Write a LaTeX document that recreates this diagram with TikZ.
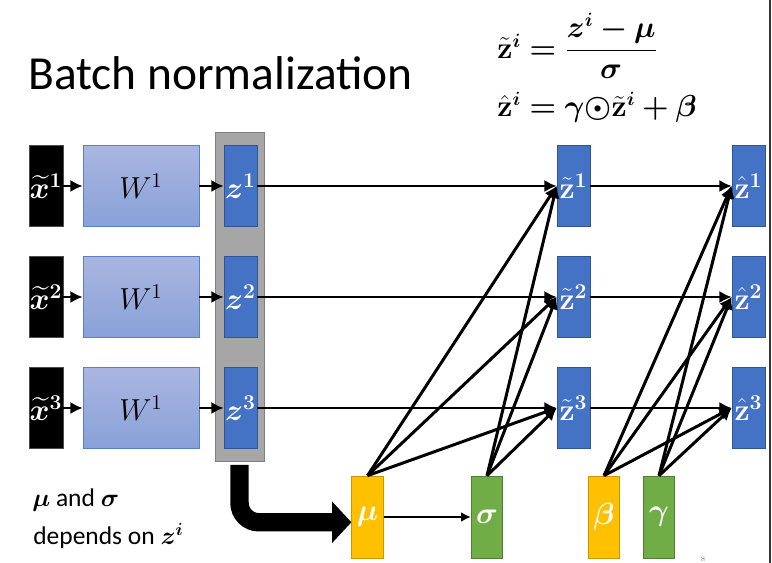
\documentclass[tikz,border=0pt]{standalone}
\usepackage{amsmath}
\usepackage{bm}
\usepackage[no-math]{fontspec}
\newfontfamily\calibri{Carlito}
\usetikzlibrary{arrows.meta}

\definecolor{zblue}{HTML}{4472C4}
\definecolor{zborder}{HTML}{2F5597}
\definecolor{wtop}{HTML}{AAB6E1}
\definecolor{wbottom}{HTML}{88A1D8}
\definecolor{wborder}{HTML}{5B7FD0}
\definecolor{bggray}{HTML}{A6A6A6}
\definecolor{bgborder}{HTML}{7F7F7F}
\definecolor{paryellow}{HTML}{FFC000}
\definecolor{paryellowborder}{HTML}{C99700}
\definecolor{pargreen}{HTML}{70AD47}
\definecolor{pargreenborder}{HTML}{507E32}

\begin{document}
\begin{tikzpicture}[x=0.02cm, y=-0.02cm,
    >={Latex[length=7pt,width=7pt]},
    conn/.style={->, line width=1.7pt},
    xbox/.style={fill=black, draw=black!70, minimum width=0.68cm, minimum height=1.62cm,
        inner sep=0pt, text=white, font=\fontsize{16.5}{18}\selectfont},
    wbox/.style={top color=wtop, bottom color=wbottom, draw=wborder, minimum width=2.32cm,
        minimum height=1.62cm, inner sep=0pt, font=\fontsize{17}{19}\selectfont},
    zbox/.style={fill=zblue, draw=zborder, minimum width=0.66cm, minimum height=1.62cm,
        inner sep=0pt, text=white, font=\fontsize{16.5}{18}\selectfont},
    parbox/.style={minimum width=0.63cm, minimum height=1.64cm, inner sep=0pt,
        text=white, font=\fontsize{16.5}{18}\selectfont},
    yellowpar/.style={parbox, fill=paryellow, draw=paryellowborder},
    greenpar/.style={parbox, fill=pargreen, draw=pargreenborder}]
        \useasboundingbox (0,0) rectangle (772,563);

        % 1. Title and formulas
        \node[anchor=base west, inner sep=0pt, font=\calibri\fontsize{27}{30}\selectfont] (title) at (28,90) {Batch normalization};
        \node[anchor=west, inner sep=0pt, font=\fontsize{16}{19}\selectfont] (eq1) at (497,46) {$\tilde{\mathbf{z}}^{\bm{i}} \bm{=} \displaystyle\frac{\bm{z}^{\bm{i}} \bm{-} \bm{\mu}}{\bm{\sigma}}$};
        \node[anchor=base west, inner sep=0pt, font=\fontsize{16}{19}\selectfont] (eq2) at (497,117) {$\hat{\mathbf{z}}^{\bm{i}} \bm{=} \bm{\gamma}{\bm{\odot}}\tilde{\mathbf{z}}^{\bm{i}} \bm{+} \bm{\beta}$};

        % 2. Gray box behind the z's
        \node[fill=bggray, draw=bgborder, minimum width=0.98cm, minimum height=6.58cm, inner sep=0pt] (bg) at (239.5,296.5) {};

        % 3. The three rows
        \foreach \i/\y in {1/186, 2/297, 3/408} {
            \node[xbox] (x\i) at (46,\y) {$\bm{\widetilde{x}}^{\mathbf{\i}}$};
            \node[wbox] (w\i) at (141,\y) {$W^{1}$};
            \node[zbox] (z\i) at (240.5,\y) {$\bm{z}^{\mathbf{\i}}$};
            \node[zbox] (zt\i) at (573.5,\y) {$\tilde{\mathbf{z}}^{\mathbf{\i}}$};
            \node[zbox] (zh\i) at (748.5,\y) {$\hat{\mathbf{z}}^{\mathbf{\i}}$};
            \draw[conn] (x\i) -- (w\i);
            \draw[conn] (w\i) -- (z\i);
            \draw[conn] (z\i) -- (zt\i);
            \draw[conn] (zt\i) -- (zh\i);
        }

        % 4. Mean, deviation, shift and scale
        \node[yellowpar] (mu) at (367.5,517) {$\bm{\mu}$};
        \node[greenpar] (sigma) at (487,517) {$\bm{\sigma}$};
        \node[yellowpar] (beta) at (604,517) {$\bm{\beta}$};
        \node[greenpar] (gamma) at (659,517) {$\bm{\gamma}$};

        \draw[->, >={Latex[length=5.5pt,width=5.5pt]}, line width=1.1pt] (mu) -- (sigma);
        \foreach \i in {1,2,3} {
            \draw[conn] (mu.north) -- (zt\i.west);
            \draw[conn] (sigma.north) -- (zt\i.west);
            \draw[conn] (beta.north) -- (zh\i.west);
            \draw[conn] (gamma.north) -- (zh\i.west);
        }

        % 5. Big bent arrow into mu
        \draw[line width=10.5pt, rounded corners=11pt, -{Triangle[length=11pt,width=23pt]}]
            ([yshift=-2pt]bg.south) |- ([yshift=-3pt]mu.west);

        % 6. Note at the bottom left
        \node[anchor=base west, inner sep=0pt, font=\calibri\fontsize{14.5}{17}\selectfont] (note1) at (32,507) {$\bm{\mu}$ and $\bm{\sigma}$};
        \node[anchor=base west, inner sep=0pt, font=\calibri\fontsize{14.5}{17}\selectfont] (note2) at (33,545) {depends on $\bm{z}^{\bm{i}}$};

        % 7. Slide number and edge
        \node[text=black!50, font=\fontsize{4}{5}\selectfont, inner sep=0pt] (page) at (703,559) {8};
        \draw[black!80, line width=1.2pt] (770,0) -- (770,563);
\end{tikzpicture}
\end{document}
